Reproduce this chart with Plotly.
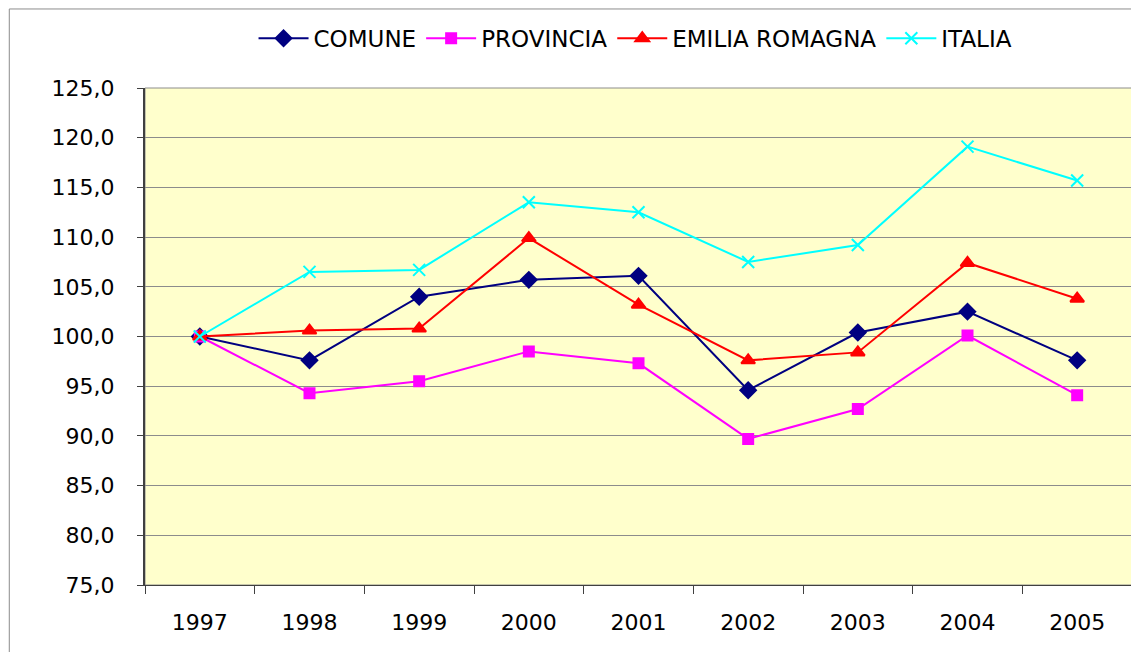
import plotly.graph_objects as go

# Data (index, 1997 = 100)
anni = ["1997", "1998", "1999", "2000", "2001", "2002", "2003", "2004", "2005"]
comune = [100.0, 97.6, 104.0, 105.7, 106.1, 94.6, 100.4, 102.5, 97.6]
provincia = [100.0, 94.3, 95.5, 98.5, 97.3, 89.7, 92.7, 100.1, 94.1]
emilia_romagna = [100.0, 100.6, 100.8, 109.9, 103.2, 97.6, 98.4, 107.4, 103.8]
italia = [100.0, 106.5, 106.7, 113.5, 112.5, 107.5, 109.2, 119.1, 115.7]

FONT = "Verdana, DejaVu Sans, sans-serif"

series = [
    ("COMUNE", comune, "#000080", "diamond", 12),
    ("PROVINCIA", provincia, "#FF00FF", "square", 10),
    ("EMILIA ROMAGNA", emilia_romagna, "#FF0000", "triangle-up", 12),
    ("ITALIA", italia, "#00FFFF", "x-thin", 12),
]

fig = go.Figure()
for name, vals, col, sym, size in series:
    fig.add_trace(go.Scatter(
        x=anni, y=vals, name=name, mode="lines+markers",
        line=dict(color=col, width=2),
        marker=dict(symbol=sym, size=size, color=col,
                    line=dict(color=col, width=2)),
    ))

# page body adds an 8px offset, so the figure is sized/margined to compensate
fig.update_layout(
    width=1131, height=644,
    margin=dict(l=137, r=7, t=80, b=67),
    paper_bgcolor="white",
    plot_bgcolor="#FFFFCC",
    separators=",.",
    font=dict(family=FONT, size=22, color="black"),
    showlegend=True,
    legend=dict(
        orientation="h", x=0.497, xanchor="center", y=1.1, yanchor="middle",
        font=dict(family=FONT, size=23), itemwidth=50, bgcolor="rgba(0,0,0,0)",
    ),
    xaxis=dict(
        type="category", range=[-0.5, 8.5], tickson="boundaries",
        ticks="outside", ticklen=8, tickcolor="#404040",
        showline=True, linecolor="#404040", linewidth=1,
        showgrid=False, ticklabelstandoff=18,
    ),
    yaxis=dict(
        range=[75, 125], dtick=5, tickformat=".1f",
        ticks="outside", ticklen=6, tickcolor="#404040",
        showline=True, linecolor="#404040", linewidth=2,
        showgrid=True, gridcolor="#8C8C8C", gridwidth=1,
        zeroline=False, ticklabelstandoff=18,
    ),
    shapes=[
        # plot area border
        dict(type="rect", xref="paper", yref="paper", x0=0, y0=0, x1=1, y1=1,
             line=dict(color="#8C8C8C", width=1), layer="below"),
        # chart area border (top and left edges of the figure)
        dict(type="line", xref="paper", yref="paper",
             x0=-0.1375, y0=1.159, x1=1.01, y1=1.159,
             line=dict(color="#8C8C8C", width=1)),
        dict(type="line", xref="paper", yref="paper",
             x0=-0.1375, y0=1.159, x1=-0.1375, y1=-0.14,
             line=dict(color="#8C8C8C", width=1)),
    ],
)

fig.write_html("out.html")
